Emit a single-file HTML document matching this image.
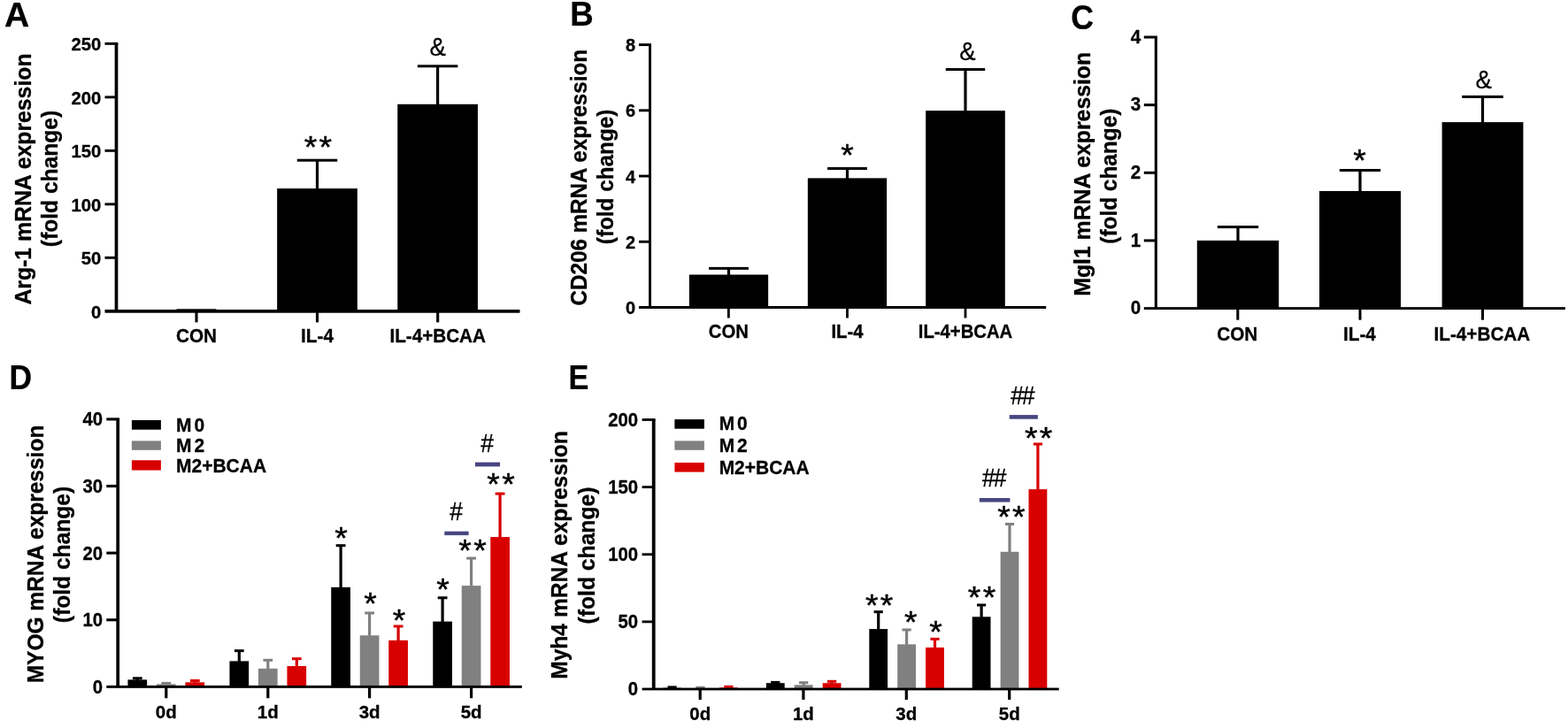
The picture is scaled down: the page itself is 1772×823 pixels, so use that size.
<!DOCTYPE html>
<html lang="en">
<head>
<meta charset="utf-8">
<title>Figure: M2 macrophage markers and myogenic gene expression</title>
<style>
html,body{margin:0;padding:0;background:#fff;}
body{width:1772px;height:823px;overflow:hidden;}
svg{display:block;}
svg text{font-family:"Liberation Sans",Arial,Helvetica,sans-serif;font-weight:700;fill:#000;stroke-linejoin:round;}
svg text.t{stroke:#000;stroke-width:0.3px;}
svg text.sig{font-weight:400;}
svg text.pl{stroke:#000;stroke-width:0.25px;}
</style>
</head>
<body>
<svg width="1772" height="823" viewBox="0 0 1772 823" role="img" aria-label="Bar charts A to E">
<rect x="0" y="0" width="1772" height="823" fill="#ffffff"/>
<g id="panel-a">
<text transform="translate(5.00 30) scale(1.0 1)" class="pl" font-size="39">A</text>
<rect x="176.75" y="350.80" width="90.50" height="1.05"/>
<rect x="199.50" y="349.30" width="45.00" height="3.00"/>
<rect x="313.15" y="213.10" width="90.70" height="138.75"/>
<rect x="356.90" y="181.20" width="3.20" height="32.40"/>
<rect x="335.75" y="179.70" width="45.50" height="3.00"/>
<rect x="449.25" y="117.80" width="90.70" height="234.05"/>
<rect x="493.00" y="74.80" width="3.20" height="43.50"/>
<rect x="471.85" y="73.30" width="45.50" height="3.00"/>
<rect x="129.65" y="49.35" width="3.70" height="302.50"/>
<rect x="118.50" y="350.00" width="469.00" height="3.70"/>
<text class="t" transform="translate(114.40 360) scale(1 1.04)" font-size="20.3" text-anchor="end">0</text>
<rect x="118.50" y="289.90" width="13.00" height="2.90"/>
<text class="t" transform="translate(114.40 299) scale(1 1.04)" font-size="20.3" text-anchor="end">50</text>
<rect x="118.50" y="229.40" width="13.00" height="2.90"/>
<text class="t" transform="translate(114.40 239) scale(1 1.04)" font-size="20.3" text-anchor="end">100</text>
<rect x="118.50" y="168.90" width="13.00" height="2.90"/>
<text class="t" transform="translate(114.40 178) scale(1 1.04)" font-size="20.3" text-anchor="end">150</text>
<rect x="118.50" y="108.40" width="13.00" height="2.90"/>
<text class="t" transform="translate(114.40 118) scale(1 1.04)" font-size="20.3" text-anchor="end">200</text>
<rect x="118.50" y="47.90" width="14.85" height="2.90"/>
<text class="t" transform="translate(114.40 57) scale(1 1.04)" font-size="20.3" text-anchor="end">250</text>
<rect x="220.45" y="351.85" width="3.10" height="12.55"/>
<text class="t" transform="translate(222.00 387) scale(1 1.08)" font-size="20.7" text-anchor="middle">CON</text>
<rect x="356.95" y="351.85" width="3.10" height="12.55"/>
<text class="t" transform="translate(358.50 387) scale(1 1.08)" font-size="20.7" text-anchor="middle">IL-4</text>
<rect x="493.15" y="351.85" width="3.10" height="12.55"/>
<text class="t" transform="translate(494.70 387) scale(1 1.08)" font-size="20.7" text-anchor="middle">IL-4+BCAA</text>
<text class="sig" transform="translate(359.40 178) scale(1 0.93)" x="1.15" y="0" font-size="37.3" text-anchor="middle" stroke="#000" stroke-width="0.5" letter-spacing="2.29">**</text>
<text class="sig" transform="translate(494.70 63) scale(0.92 1.0)" x="0.00" y="0" font-size="30" text-anchor="middle" stroke="#000" stroke-width="0.3">&amp;</text>
<text class="t" transform="translate(35 202.50) rotate(-90) scale(1 1.05)" font-size="24.8" text-anchor="middle">Arg-1 mRNA expression</text>
<text class="t" transform="translate(65 202.00) rotate(-90) scale(1 1.05)" font-size="24.6" text-anchor="middle">(fold change)</text>
</g>
<g id="panel-b">
<text transform="translate(644.33 29) scale(0.94 1)" class="pl" font-size="39">B</text>
<rect x="778.85" y="310.50" width="89.30" height="37.00"/>
<rect x="821.90" y="303.40" width="3.20" height="7.60"/>
<rect x="801.10" y="301.90" width="44.80" height="3.00"/>
<rect x="912.85" y="201.40" width="89.30" height="146.10"/>
<rect x="955.90" y="190.50" width="3.20" height="11.40"/>
<rect x="935.10" y="189.00" width="44.80" height="3.00"/>
<rect x="1046.20" y="125.10" width="89.60" height="222.40"/>
<rect x="1089.40" y="78.50" width="3.20" height="47.10"/>
<rect x="1068.75" y="77.00" width="44.50" height="3.00"/>
<rect x="733.10" y="50.60" width="2.90" height="296.90"/>
<rect x="722.00" y="346.00" width="460.20" height="3.00"/>
<text class="t" transform="translate(718.20 355) scale(1 1.04)" font-size="20.0" text-anchor="end">0</text>
<rect x="722.00" y="271.82" width="12.55" height="2.90"/>
<text class="t" transform="translate(718.20 281) scale(1 1.04)" font-size="20.0" text-anchor="end">2</text>
<rect x="722.00" y="197.60" width="12.55" height="2.90"/>
<text class="t" transform="translate(718.20 207) scale(1 1.04)" font-size="20.0" text-anchor="end">4</text>
<rect x="722.00" y="123.38" width="12.55" height="2.90"/>
<text class="t" transform="translate(718.20 132) scale(1 1.04)" font-size="20.0" text-anchor="end">6</text>
<rect x="722.00" y="49.15" width="14.00" height="2.90"/>
<text class="t" transform="translate(718.20 58) scale(1 1.04)" font-size="20.0" text-anchor="end">8</text>
<rect x="822.00" y="347.50" width="2.80" height="12.00"/>
<text class="t" transform="translate(823.40 382) scale(1 1.08)" font-size="20.3" text-anchor="middle">CON</text>
<rect x="956.10" y="347.50" width="2.80" height="12.00"/>
<text class="t" transform="translate(957.50 382) scale(1 1.08)" font-size="20.3" text-anchor="middle">IL-4</text>
<rect x="1089.60" y="347.50" width="2.80" height="12.00"/>
<text class="t" transform="translate(1091.00 382) scale(1 1.08)" font-size="20.3" text-anchor="middle">IL-4+BCAA</text>
<text class="sig" transform="translate(957.50 187) scale(1 0.93)" x="0.00" y="0" font-size="37.3" text-anchor="middle" stroke="#000" stroke-width="0.5">*</text>
<text class="sig" transform="translate(1093.50 68) scale(0.92 1.0)" x="0.00" y="0" font-size="30" text-anchor="middle" stroke="#000" stroke-width="0.3">&amp;</text>
<text class="t" transform="translate(663 200.70) rotate(-90) scale(1 1.05)" font-size="24.2" text-anchor="middle">CD206 mRNA expression</text>
<text class="t" transform="translate(693 199.90) rotate(-90) scale(1 1.05)" font-size="24.3" text-anchor="middle">(fold change)</text>
</g>
<g id="panel-c">
<text transform="translate(1210.29 33) scale(0.915 1)" class="pl" font-size="39">C</text>
<rect x="1352.80" y="271.90" width="92.40" height="76.70"/>
<rect x="1397.40" y="256.60" width="3.20" height="15.80"/>
<rect x="1375.80" y="255.10" width="46.40" height="3.00"/>
<rect x="1491.00" y="216.00" width="92.00" height="132.60"/>
<rect x="1535.40" y="192.50" width="3.20" height="24.00"/>
<rect x="1513.80" y="191.00" width="46.40" height="3.00"/>
<rect x="1629.60" y="138.10" width="91.80" height="210.50"/>
<rect x="1673.90" y="109.40" width="3.20" height="29.20"/>
<rect x="1652.20" y="107.90" width="46.60" height="3.00"/>
<rect x="1304.75" y="42.00" width="3.10" height="306.60"/>
<rect x="1292.80" y="347.15" width="476.10" height="2.90"/>
<text class="t" transform="translate(1289.30 355) scale(1 1.04)" font-size="20.6" text-anchor="end">0</text>
<rect x="1292.80" y="270.45" width="13.50" height="3.00"/>
<text class="t" transform="translate(1289.30 279) scale(1 1.04)" font-size="20.6" text-anchor="end">1</text>
<rect x="1292.80" y="193.80" width="13.50" height="3.00"/>
<text class="t" transform="translate(1289.30 202) scale(1 1.04)" font-size="20.6" text-anchor="end">2</text>
<rect x="1292.80" y="117.15" width="13.50" height="3.00"/>
<text class="t" transform="translate(1289.30 125) scale(1 1.04)" font-size="20.6" text-anchor="end">3</text>
<rect x="1292.80" y="40.50" width="15.05" height="3.00"/>
<text class="t" transform="translate(1289.30 49) scale(1 1.04)" font-size="20.6" text-anchor="end">4</text>
<rect x="1397.30" y="348.60" width="3.00" height="13.10"/>
<text class="t" transform="translate(1398.20 385) scale(1 1.08)" font-size="20.7" text-anchor="middle">CON</text>
<rect x="1535.50" y="348.60" width="3.00" height="13.10"/>
<text class="t" transform="translate(1536.40 385) scale(1 1.08)" font-size="20.7" text-anchor="middle">IL-4</text>
<rect x="1674.00" y="348.60" width="3.00" height="13.10"/>
<text class="t" transform="translate(1674.90 385) scale(1 1.08)" font-size="20.7" text-anchor="middle">IL-4+BCAA</text>
<text class="sig" transform="translate(1536.40 193) scale(1 0.93)" x="0.00" y="0" font-size="37.3" text-anchor="middle" stroke="#000" stroke-width="0.5">*</text>
<text class="sig" transform="translate(1676.80 100) scale(0.92 1.0)" x="0.00" y="0" font-size="30" text-anchor="middle" stroke="#000" stroke-width="0.3">&amp;</text>
<text class="t" transform="translate(1232 196.80) rotate(-90) scale(1 1.05)" font-size="24.8" text-anchor="middle">Mgl1 mRNA expression</text>
<text class="t" transform="translate(1262 199.20) rotate(-90) scale(1 1.05)" font-size="24.4" text-anchor="middle">(fold change)</text>
</g>
<g id="panel-d">
<text transform="translate(10.62 440) scale(0.91 1)" class="pl" font-size="39">D</text>
<rect x="144.45" y="768.40" width="21.70" height="8.00"/>
<rect x="153.70" y="766.80" width="3.20" height="2.10"/>
<rect x="149.90" y="765.30" width="10.80" height="3.00"/>
<rect x="176.95" y="773.40" width="21.70" height="3.00" fill="#808080"/>
<rect x="182.40" y="770.90" width="10.80" height="3.00" fill="#808080"/>
<rect x="209.45" y="771.30" width="21.70" height="5.10" fill="#d80000"/>
<rect x="218.70" y="769.50" width="3.20" height="2.30" fill="#d80000"/>
<rect x="214.90" y="768.00" width="10.80" height="3.00" fill="#d80000"/>
<rect x="259.45" y="747.40" width="21.70" height="29.00"/>
<rect x="268.70" y="735.70" width="3.20" height="12.20"/>
<rect x="264.90" y="734.20" width="10.80" height="3.00"/>
<rect x="291.95" y="755.80" width="21.70" height="20.60" fill="#808080"/>
<rect x="301.20" y="746.30" width="3.20" height="10.00" fill="#808080"/>
<rect x="297.40" y="744.80" width="10.80" height="3.00" fill="#808080"/>
<rect x="324.45" y="753.00" width="21.70" height="23.40" fill="#d80000"/>
<rect x="333.70" y="744.70" width="3.20" height="8.80" fill="#d80000"/>
<rect x="329.90" y="743.20" width="10.80" height="3.00" fill="#d80000"/>
<rect x="374.25" y="663.90" width="21.70" height="112.50"/>
<rect x="383.50" y="616.70" width="3.20" height="47.70"/>
<rect x="379.70" y="615.20" width="10.80" height="3.00"/>
<rect x="406.75" y="718.30" width="21.70" height="58.10" fill="#808080"/>
<rect x="416.00" y="693.00" width="3.20" height="25.80" fill="#808080"/>
<rect x="412.20" y="691.50" width="10.80" height="3.00" fill="#808080"/>
<rect x="439.25" y="723.90" width="21.70" height="52.50" fill="#d80000"/>
<rect x="448.50" y="708.00" width="3.20" height="16.40" fill="#d80000"/>
<rect x="444.70" y="706.50" width="10.80" height="3.00" fill="#d80000"/>
<rect x="489.25" y="702.60" width="21.70" height="73.80"/>
<rect x="498.50" y="675.80" width="3.20" height="27.30"/>
<rect x="494.70" y="674.30" width="10.80" height="3.00"/>
<rect x="521.75" y="662.10" width="21.70" height="114.30" fill="#808080"/>
<rect x="531.00" y="631.10" width="3.20" height="31.50" fill="#808080"/>
<rect x="527.20" y="629.60" width="10.80" height="3.00" fill="#808080"/>
<rect x="554.25" y="607.10" width="21.70" height="169.30" fill="#d80000"/>
<rect x="563.50" y="558.10" width="3.20" height="49.50" fill="#d80000"/>
<rect x="559.70" y="556.60" width="10.80" height="3.00" fill="#d80000"/>
<rect x="131.35" y="473.90" width="3.70" height="302.50"/>
<rect x="120.30" y="774.95" width="469.50" height="2.90"/>
<text class="t" transform="translate(116.00 784) scale(1 1.05)" font-size="20.3" text-anchor="end">0</text>
<rect x="120.30" y="699.23" width="12.90" height="3.10"/>
<text class="t" transform="translate(116.00 708) scale(1 1.05)" font-size="20.3" text-anchor="end">10</text>
<rect x="120.30" y="623.60" width="12.90" height="3.10"/>
<text class="t" transform="translate(116.00 633) scale(1 1.05)" font-size="20.3" text-anchor="end">20</text>
<rect x="120.30" y="547.98" width="12.90" height="3.10"/>
<text class="t" transform="translate(116.00 557) scale(1 1.05)" font-size="20.3" text-anchor="end">30</text>
<rect x="120.30" y="472.35" width="14.75" height="3.10"/>
<text class="t" transform="translate(116.00 481) scale(1 1.05)" font-size="20.3" text-anchor="end">40</text>
<rect x="186.20" y="776.40" width="3.20" height="12.90"/>
<text class="t" transform="translate(187.80 812) scale(1 1.02)" font-size="20.5" text-anchor="middle">0d</text>
<rect x="301.20" y="776.40" width="3.20" height="12.90"/>
<text class="t" transform="translate(302.80 812) scale(1 1.02)" font-size="20.5" text-anchor="middle">1d</text>
<rect x="416.00" y="776.40" width="3.20" height="12.90"/>
<text class="t" transform="translate(417.60 812) scale(1 1.02)" font-size="20.5" text-anchor="middle">3d</text>
<rect x="531.00" y="776.40" width="3.20" height="12.90"/>
<text class="t" transform="translate(532.60 812) scale(1 1.02)" font-size="20.5" text-anchor="middle">5d</text>
<rect x="148.90" y="475.00" width="33.00" height="10.70"/>
<rect x="148.90" y="498.40" width="33.00" height="10.40" fill="#808080"/>
<rect x="148.90" y="520.30" width="33.00" height="11.30" fill="#d80000"/>
<text class="t" transform="translate(199.03 488) scale(1 1.03)" font-size="21">M<tspan dx="3">0</tspan></text>
<text class="t" transform="translate(199.03 511) scale(1 1.03)" font-size="21">M<tspan dx="3">2</tspan></text>
<text class="t" transform="translate(199.03 534) scale(1 1.03)" font-size="21">M2+BCAA</text>
<text class="t" transform="translate(49 626.50) rotate(-90) scale(1 1.05)" font-size="24.5" text-anchor="middle">MYOG mRNA expression</text>
<text class="t" transform="translate(79 627.00) rotate(-90) scale(1 1.05)" font-size="24.6" text-anchor="middle">(fold change)</text>
<text class="sig" transform="translate(385.40 620) scale(1 0.93)" x="0.00" y="0" font-size="37.3" text-anchor="middle" stroke="#000" stroke-width="0.5">*</text>
<text class="sig" transform="translate(418.50 694) scale(1 0.93)" x="0.00" y="0" font-size="37.3" text-anchor="middle" stroke="#000" stroke-width="0.5">*</text>
<text class="sig" transform="translate(451.00 713) scale(1 0.93)" x="0.00" y="0" font-size="37.3" text-anchor="middle" stroke="#000" stroke-width="0.5">*</text>
<text class="sig" transform="translate(500.40 678) scale(1 0.93)" x="0.00" y="0" font-size="37.3" text-anchor="middle" stroke="#000" stroke-width="0.5">*</text>
<text class="sig" transform="translate(534.00 634) scale(1 0.93)" x="1.15" y="0" font-size="37.3" text-anchor="middle" stroke="#000" stroke-width="0.5" letter-spacing="2.29">**</text>
<text class="sig" transform="translate(566.00 559) scale(1 0.93)" x="1.15" y="0" font-size="37.3" text-anchor="middle" stroke="#000" stroke-width="0.5" letter-spacing="2.29">**</text>
<rect x="502.30" y="600.70" width="27.30" height="4.40" fill="#484680"/>
<rect x="536.90" y="522.60" width="28.20" height="4.80" fill="#484680"/>
<text class="sig" transform="translate(515.70 588) scale(1.0 1.09)" x="0.00" y="0" font-size="26.5" text-anchor="middle" stroke="#000" stroke-width="0.3">#</text>
<text class="sig" transform="translate(550.60 511) scale(1.0 1.09)" x="0.00" y="0" font-size="26.5" text-anchor="middle" stroke="#000" stroke-width="0.3">#</text>
</g>
<g id="panel-e">
<text transform="translate(642.60 440) scale(0.88 1)" class="pl" font-size="39">E</text>
<rect x="749.20" y="777.70" width="20.80" height="1.30"/>
<rect x="754.50" y="775.40" width="10.20" height="3.00"/>
<rect x="781.10" y="778.20" width="20.80" height="0.80" fill="#808080"/>
<rect x="786.40" y="775.80" width="10.20" height="3.00" fill="#808080"/>
<rect x="813.00" y="777.30" width="20.80" height="1.70" fill="#d80000"/>
<rect x="818.30" y="774.90" width="10.20" height="3.00" fill="#d80000"/>
<rect x="865.90" y="772.20" width="20.80" height="6.80"/>
<rect x="871.20" y="769.90" width="10.20" height="3.00"/>
<rect x="897.80" y="774.30" width="20.80" height="4.70" fill="#808080"/>
<rect x="906.60" y="771.70" width="3.20" height="3.10" fill="#808080"/>
<rect x="903.10" y="770.20" width="10.20" height="3.00" fill="#808080"/>
<rect x="929.70" y="772.20" width="20.80" height="6.80" fill="#d80000"/>
<rect x="938.50" y="770.30" width="3.20" height="2.40" fill="#d80000"/>
<rect x="935.00" y="768.80" width="10.20" height="3.00" fill="#d80000"/>
<rect x="982.30" y="711.10" width="20.80" height="67.90"/>
<rect x="991.10" y="691.70" width="3.20" height="19.90"/>
<rect x="987.60" y="690.20" width="10.20" height="3.00"/>
<rect x="1014.20" y="728.40" width="20.80" height="50.60" fill="#808080"/>
<rect x="1023.00" y="712.00" width="3.20" height="16.90" fill="#808080"/>
<rect x="1019.50" y="710.50" width="10.20" height="3.00" fill="#808080"/>
<rect x="1046.10" y="732.00" width="20.80" height="47.00" fill="#d80000"/>
<rect x="1054.90" y="722.40" width="3.20" height="10.10" fill="#d80000"/>
<rect x="1051.40" y="720.90" width="10.20" height="3.00" fill="#d80000"/>
<rect x="1098.70" y="697.30" width="20.80" height="81.70"/>
<rect x="1107.50" y="684.00" width="3.20" height="13.80"/>
<rect x="1104.00" y="682.50" width="10.20" height="3.00"/>
<rect x="1130.60" y="623.80" width="20.80" height="155.20" fill="#808080"/>
<rect x="1139.40" y="592.50" width="3.20" height="31.80" fill="#808080"/>
<rect x="1135.90" y="591.00" width="10.20" height="3.00" fill="#808080"/>
<rect x="1162.50" y="553.10" width="20.80" height="225.90" fill="#d80000"/>
<rect x="1171.30" y="502.00" width="3.20" height="51.60" fill="#d80000"/>
<rect x="1167.80" y="500.50" width="10.20" height="3.00" fill="#d80000"/>
<rect x="736.80" y="474.50" width="3.80" height="304.50"/>
<rect x="725.60" y="777.60" width="471.10" height="2.80"/>
<text class="t" transform="translate(721.00 786) scale(1 1.05)" font-size="20.3" text-anchor="end">0</text>
<rect x="725.60" y="701.48" width="13.10" height="2.80"/>
<text class="t" transform="translate(721.00 710) scale(1 1.05)" font-size="20.3" text-anchor="end">50</text>
<rect x="725.60" y="625.35" width="13.10" height="2.80"/>
<text class="t" transform="translate(721.00 634) scale(1 1.05)" font-size="20.3" text-anchor="end">100</text>
<rect x="725.60" y="549.23" width="13.10" height="2.80"/>
<text class="t" transform="translate(721.00 558) scale(1 1.05)" font-size="20.3" text-anchor="end">150</text>
<rect x="725.60" y="473.10" width="15.00" height="2.80"/>
<text class="t" transform="translate(721.00 482) scale(1 1.05)" font-size="20.3" text-anchor="end">200</text>
<rect x="789.60" y="779.00" width="3.20" height="12.10"/>
<text class="t" transform="translate(791.20 814) scale(1 1.02)" font-size="20.5" text-anchor="middle">0d</text>
<rect x="906.30" y="779.00" width="3.20" height="12.10"/>
<text class="t" transform="translate(907.90 814) scale(1 1.02)" font-size="20.5" text-anchor="middle">1d</text>
<rect x="1022.70" y="779.00" width="3.20" height="12.10"/>
<text class="t" transform="translate(1024.30 814) scale(1 1.02)" font-size="20.5" text-anchor="middle">3d</text>
<rect x="1139.10" y="779.00" width="3.20" height="12.10"/>
<text class="t" transform="translate(1140.70 814) scale(1 1.02)" font-size="20.5" text-anchor="middle">5d</text>
<rect x="762.40" y="474.10" width="33.50" height="10.60"/>
<rect x="762.40" y="498.40" width="33.50" height="10.40" fill="#808080"/>
<rect x="762.40" y="523.00" width="33.50" height="10.60" fill="#d80000"/>
<text class="t" transform="translate(812.63 486) scale(1 1.03)" font-size="21">M<tspan dx="3">0</tspan></text>
<text class="t" transform="translate(812.63 511) scale(1 1.03)" font-size="21">M<tspan dx="3">2</tspan></text>
<text class="t" transform="translate(812.63 536) scale(1 1.03)" font-size="21">M2+BCAA</text>
<text class="t" transform="translate(641 627.50) rotate(-90) scale(1 1.05)" font-size="24.6" text-anchor="middle">Myh4 mRNA expression</text>
<text class="t" transform="translate(672 628.00) rotate(-90) scale(1 1.05)" font-size="24.7" text-anchor="middle">(fold change)</text>
<text class="sig" transform="translate(993.60 696) scale(1 0.93)" x="1.15" y="0" font-size="37.3" text-anchor="middle" stroke="#000" stroke-width="0.5" letter-spacing="2.29">**</text>
<text class="sig" transform="translate(1029.30 715) scale(1 0.93)" x="0.00" y="0" font-size="37.3" text-anchor="middle" stroke="#000" stroke-width="0.5">*</text>
<text class="sig" transform="translate(1057.50 726) scale(1 0.93)" x="0.00" y="0" font-size="37.3" text-anchor="middle" stroke="#000" stroke-width="0.5">*</text>
<text class="sig" transform="translate(1109.50 687) scale(1 0.93)" x="1.15" y="0" font-size="37.3" text-anchor="middle" stroke="#000" stroke-width="0.5" letter-spacing="2.29">**</text>
<text class="sig" transform="translate(1142.80 596) scale(1 0.93)" x="1.15" y="0" font-size="37.3" text-anchor="middle" stroke="#000" stroke-width="0.5" letter-spacing="2.29">**</text>
<text class="sig" transform="translate(1173.60 507) scale(1 0.93)" x="1.15" y="0" font-size="37.3" text-anchor="middle" stroke="#000" stroke-width="0.5" letter-spacing="2.29">**</text>
<rect x="1106.90" y="563.00" width="34.50" height="4.60" fill="#484680"/>
<rect x="1140.70" y="469.10" width="32.20" height="4.60" fill="#484680"/>
<text class="sig" transform="translate(1123.70 550) scale(1.0 1.09)" x="-1.05" y="0" font-size="26.5" text-anchor="middle" letter-spacing="-2.1" stroke="#000" stroke-width="0.3">##</text>
<text class="sig" transform="translate(1155.90 457) scale(1.0 1.09)" x="-1.05" y="0" font-size="26.5" text-anchor="middle" letter-spacing="-2.1" stroke="#000" stroke-width="0.3">##</text>
</g>
</svg>
</body>
</html>
